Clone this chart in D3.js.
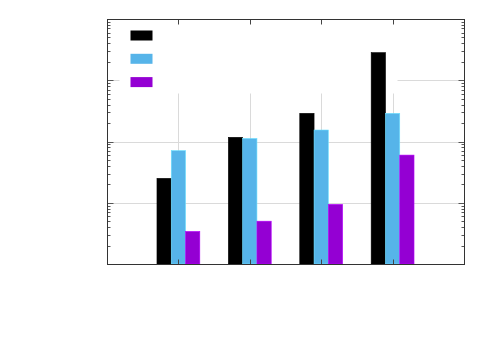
<!DOCTYPE html>
<html>
<head>
<meta charset="utf-8">
<script src="https://cdn.jsdelivr.net/npm/d3@7"></script>
<style>
  html, body { margin: 0; padding: 0; background: #fff; }
  svg { display: block; }
</style>
</head>
<body>
<svg id="chart"></svg>
<script>
// groups along x (no labels are printed in the picture)
const groups = [1, 2, 3, 4];
// series, legend titles are blank in the reference
const seriesNames = ["", "", ""];
const seriesColors = ["#000000", "#56b4e9", "#9400d3"];
const seriesA = [25, 117, 288, 2820];
const seriesB = [71, 112, 154, 288];
const seriesC = [3.4, 5.0, 9.4, 60];
const yDecades = [1, 10, 100, 1000, 10000];

const width = 500, height = 350;
const margin = { top: 19, right: 36, bottom: 86, left: 107 };
const innerWidth = width - margin.left - margin.right;
const innerHeight = height - margin.top - margin.bottom;

const svg = d3.select("#chart").attr("width", width).attr("height", height);
const chart = svg.append("g")
  .attr("transform", `translate(${margin.left + 0.5}, ${margin.top + 0.5})`);

const xScale = d3.scaleLinear().domain([0, 5]).range([0, innerWidth]);
const yScale = d3.scaleLog().domain([1, 10000]).range([innerHeight, 0]);

const barW = 0.2;
const series = [seriesA, seriesB, seriesC];

// grid
chart.selectAll(".hgrid").data(yDecades.slice(1, -1)).join("line")
  .attr("class", "hgrid")
  .attr("x1", 0).attr("x2", innerWidth)
  .attr("y1", d => Math.round(yScale(d))).attr("y2", d => Math.round(yScale(d)))
  .attr("stroke", "#dadada");
chart.selectAll(".vgrid").data(groups).join("line")
  .attr("class", "vgrid")
  .attr("x1", d => Math.round(xScale(d))).attr("x2", d => Math.round(xScale(d)))
  .attr("y1", 0).attr("y2", innerHeight)
  .attr("stroke", "#dadada");

// opaque legend area
const legend = chart.append("g");
legend.append("rect")
  .attr("x", 12).attr("y", 1).attr("width", 278).attr("height", 73)
  .attr("fill", "#fff");

// bars
series.forEach((vals, s) => {
  chart.append("g").selectAll("rect").data(vals).join("rect")
    .attr("x", (d, i) => xScale(groups[i] + (s - 1.5) * barW) - 0.5)
    .attr("width", xScale(barW) - xScale(0))
    .attr("y", d => yScale(d) - 0.5)
    .attr("height", d => innerHeight - yScale(d))
    .attr("fill", seriesColors[s])
    .attr("stroke", d3.color(seriesColors[s]).brighter(0.6))
    .attr("stroke-width", 0.6);
});

// legend samples
legend.selectAll(".key").data(seriesNames).join("rect")
  .attr("class", "key")
  .attr("x", 23).attr("y", (d, i) => 11 + i * 23.3)
  .attr("width", 22).attr("height", 10)
  .attr("fill", (d, i) => seriesColors[i]);
legend.selectAll(".ktext").data(seriesNames).join("text")
  .attr("class", "ktext")
  .attr("x", 52).attr("y", (d, i) => 20 + i * 23.3)
  .attr("font-family", "DejaVu Sans").attr("font-size", 10)
  .text(d => d);

// log ticks, left and right, inward
const yTicks = yScale.ticks();
const isMajor = d => yDecades.includes(d);
[0, innerWidth].forEach((x0, side) => {
  const dir = side === 0 ? 1 : -1;
  chart.append("g").selectAll("line").data(yTicks).join("line")
    .attr("x1", x0).attr("x2", d => x0 + dir * (isMajor(d) ? 6 : 3))
    .attr("y1", d => Math.round(yScale(d))).attr("y2", d => Math.round(yScale(d)))
    .attr("stroke", "#555");
});

// x ticks top and bottom, inward
[0, innerHeight].forEach((y0, side) => {
  const dir = side === 0 ? 1 : -1;
  chart.append("g").selectAll("line").data(groups).join("line")
    .attr("x1", d => Math.round(xScale(d))).attr("x2", d => Math.round(xScale(d)))
    .attr("y1", y0).attr("y2", y0 + dir * 5)
    .attr("stroke", "#444");
});

// border
chart.append("rect")
  .attr("x", 0).attr("y", 0)
  .attr("width", innerWidth).attr("height", innerHeight)
  .attr("fill", "none").attr("stroke", "#333");
</script>
</body>
</html>
